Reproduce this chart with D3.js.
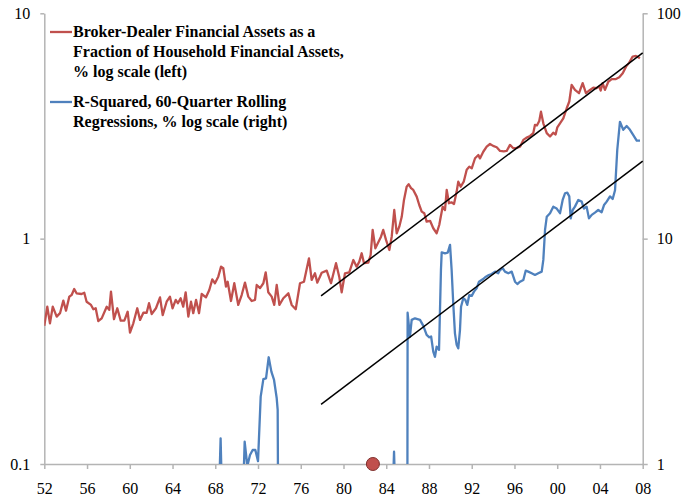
<!DOCTYPE html>
<meta charset="utf-8">
<script src="https://d3js.org/d3.v7.min.js"></script>
<style>
  body { margin: 0; background: #fff; }
  text { font-family: "Liberation Serif", "Times New Roman", serif; }
</style>
<div id="my_dataviz"></div>

<script>
// broker-dealer assets / household financial assets, % (left, log)
var redYears = [1952.0, 1952.28, 1952.53, 1952.79, 1953.16, 1953.47, 1953.78, 1954.03, 1954.34, 1954.56, 1954.8, 1955.02,
  1955.49, 1955.74, 1955.96, 1956.37, 1956.59, 1956.81, 1957.05, 1957.37, 1957.84, 1958.08, 1958.24, 1958.52, 1958.83,
  1959.15, 1959.49, 1959.8, 1960.02, 1960.33, 1960.7, 1960.96, 1961.27, 1961.58, 1961.8, 1962.05, 1962.45, 1962.83,
  1963.08, 1963.45, 1963.76, 1964.0, 1964.3, 1964.5, 1964.76, 1965.0, 1965.23, 1965.48, 1965.73, 1965.94, 1966.2,
  1966.48, 1966.73, 1967.13, 1967.44, 1967.72, 1967.97, 1968.28, 1968.54, 1968.75, 1969.0, 1969.16, 1969.47, 1969.78,
  1970.15, 1970.47, 1970.78, 1971.09, 1971.41, 1971.72, 1971.88, 1972.19, 1972.5, 1972.72, 1972.96, 1973.28, 1973.52,
  1973.75, 1974.0, 1974.37, 1974.84, 1975.15, 1975.53, 1975.93, 1976.3, 1976.77, 1977.02, 1977.33, 1977.55, 1977.96,
  1978.43, 1978.83, 1979.3, 1979.6, 1979.83, 1980.14, 1980.54, 1980.92, 1981.23, 1981.48, 1981.7, 1981.92, 1982.32,
  1982.54, 1982.73, 1982.98, 1983.51, 1983.72, 1983.98, 1984.29, 1984.51, 1984.75, 1984.98, 1985.22, 1985.45, 1985.66,
  1985.91, 1986.1, 1986.32, 1986.53, 1986.85, 1987.09, 1987.32, 1987.56, 1987.78, 1988.1, 1988.4, 1988.72, 1988.96,
  1989.28, 1989.5, 1989.66, 1989.87, 1990.1, 1990.34, 1990.59, 1990.74, 1990.97, 1991.25, 1991.53, 1991.77, 1992.0,
  1992.31, 1992.62, 1992.77, 1993.08, 1993.4, 1993.71, 1994.0, 1994.34, 1994.65, 1995.0, 1995.27, 1995.58, 1995.89,
  1996.2, 1996.52, 1996.83, 1997.1, 1997.46, 1997.76, 1997.92, 1998.1, 1998.32, 1998.48, 1998.7, 1999.02, 1999.33,
  1999.63, 1999.85, 2000.01, 2000.26, 2000.57, 2000.89, 2001.13, 2001.35, 2001.66, 2002.04, 2002.38, 2002.69, 2003.07,
  2003.38, 2003.65, 2003.94, 2004.07, 2004.25, 2004.47, 2004.78, 2005.1, 2005.45, 2005.81, 2006.13, 2006.44, 2006.74,
  2007.06, 2007.37, 2007.55, 2007.74];
var redValues = [0.41, 0.499, 0.421, 0.499, 0.451, 0.467, 0.531, 0.479, 0.553, 0.562, 0.598, 0.572,
  0.568, 0.575, 0.525, 0.508, 0.486, 0.491, 0.431, 0.443, 0.499, 0.483, 0.582, 0.439, 0.491,
  0.433, 0.433, 0.474, 0.383, 0.421, 0.491, 0.436, 0.469, 0.469, 0.517, 0.463, 0.491, 0.549,
  0.458, 0.525, 0.553, 0.491, 0.535, 0.517, 0.544, 0.499, 0.578, 0.451, 0.525, 0.467, 0.535,
  0.467, 0.568, 0.549, 0.592, 0.66, 0.634, 0.678, 0.751, 0.739, 0.612, 0.644, 0.529, 0.634,
  0.508, 0.562, 0.638, 0.553, 0.529, 0.535, 0.623, 0.603, 0.634, 0.709, 0.578, 0.553, 0.508,
  0.623, 0.508, 0.544, 0.572, 0.508, 0.486, 0.634, 0.644, 0.818, 0.656, 0.702, 0.638, 0.706,
  0.721, 0.634, 0.778, 0.678, 0.578, 0.702, 0.709, 0.804, 0.751, 0.791, 0.861, 0.778, 0.783,
  0.846, 1.093, 0.906, 1.02, 1.093, 0.987, 0.891, 1.02, 1.34, 1.056, 1.13, 1.25, 1.485,
  1.7, 1.744, 1.675, 1.645, 1.536, 1.41, 1.318, 1.296, 1.19, 1.2, 1.112, 1.057, 1.15,
  1.387, 1.34, 1.645, 1.436, 1.45, 1.426, 1.617, 1.79, 1.7, 1.79, 2.02, 2.087, 2.05,
  2.274, 2.352, 2.27, 2.43, 2.56, 2.63, 2.58, 2.545, 2.45, 2.44, 2.45, 2.606, 2.52,
  2.53, 2.56, 2.742, 2.8, 2.857, 2.94, 3.2, 3.18, 3.33, 3.66, 3.25, 2.94, 2.84,
  2.95, 2.9, 3.12, 3.25, 3.42, 3.79, 4.06, 4.81, 4.57, 4.42, 4.9, 4.42, 4.57,
  4.68, 4.65, 4.73, 4.54, 4.9, 4.57, 4.97, 5.1, 5.1, 5.2, 5.42, 5.8, 6.04,
  6.43, 6.47, 6.4, 6.32];

// R-squared of 60-quarter rolling regressions, % (right, log) - below 1 falls off the chart
var blueYears = [1967.0, 1967.5, 1968.0, 1968.25, 1968.5, 1968.75, 1969.25, 1970.0, 1970.5, 1970.75, 1971.0, 1971.25,
  1971.5, 1971.75, 1972.0, 1972.25, 1972.5, 1972.75, 1973.0, 1973.25, 1973.5, 1973.75, 1973.84, 1974.0, 1976.0,
  1978.0, 1980.0, 1982.0, 1984.5, 1984.73, 1985.0, 1985.5, 1985.95, 1986.0, 1986.22, 1986.38, 1986.69, 1987.16,
  1987.47, 1987.78, 1988.03, 1988.2, 1988.4, 1988.56, 1988.72, 1988.94, 1989.12, 1989.19, 1989.5, 1989.75, 1989.97,
  1990.12, 1990.27, 1990.43, 1990.59, 1990.74, 1990.9, 1991.0, 1991.21, 1991.4, 1991.58, 1991.77, 1992.0, 1992.21,
  1992.46, 1992.68, 1993.03, 1993.33, 1993.6, 1993.87, 1994.18, 1994.48, 1994.65, 1994.9, 1995.11, 1995.42, 1995.74,
  1996.05, 1996.27, 1996.52, 1996.83, 1997.05, 1997.29, 1997.61, 1997.92, 1998.23, 1998.55, 1998.7, 1998.86, 1999.02,
  1999.33, 1999.63, 1999.95, 2000.26, 2000.51, 2000.73, 2000.94, 2001.13, 2001.26, 2001.45, 2001.66, 2001.97, 2002.29,
  2002.5, 2002.75, 2002.97, 2003.23, 2003.53, 2003.84, 2004.16, 2004.38, 2004.63, 2004.94, 2005.19, 2005.41, 2005.62,
  2005.87, 2006.18, 2006.5, 2006.81, 2007.12, 2007.44, 2007.75];
var blueValues = [0.3, 0.2, 0.4, 0.5, 1.3, 0.4, 0.3, 0.3, 0.5, 1.256, 0.98, 1.096,
  1.154, 1.154, 1.03, 1.99, 2.38, 2.4, 2.976, 2.57, 2.36, 1.957, 1.74, 0.03, 0.3,
  0.2, 0.4, 0.3, 0.5, 1.134, 0.4, 0.2, 0.05, 4.69, 3.67, 4.36, 4.43, 4.36,
  4.1, 3.74, 3.65, 3.68, 3.15, 2.99, 3.32, 3.21, 7.26, 8.7, 8.61, 8.66, 9.38,
  7.26, 5.17, 3.8, 3.38, 3.26, 3.93, 4.99, 5.44, 5.35, 5.08, 5.62, 5.57, 5.82,
  6.02, 6.44, 6.6, 6.78, 6.9, 6.97, 7.14, 7.02, 7.26, 7.39, 7.14, 7.02, 7.14,
  6.44, 6.29, 6.44, 6.56, 7.21, 7.14, 7.02, 6.9, 7.02, 7.14, 8.05, 10.93, 12.5,
  12.97, 13.87, 13.6, 12.97, 14.85, 15.9, 16.0, 15.4, 12.3, 13.4, 13.87, 14.85, 14.6,
  13.6, 13.87, 12.3, 12.75, 13.05, 13.4, 13.1, 14.1, 14.6, 15.4, 15.0, 16.4, 24.8,
  33.0, 30.4, 31.6, 30.4, 28.8, 27.2, 27.2];

// fitted trend lines, 1978-2008
var trendYears = [1977.9, 2008];
var trendLeft = [0.557, 6.67];
var trendRight = [1.84, 22.1];

var markerYear = 1982.75;
var xTicks = [1952, 1956, 1960, 1964, 1968, 1972, 1976, 1980, 1984, 1988, 1992, 1996, 2000, 2004, 2008];
var leftTicks = [0.1, 1, 10];
var rightTicks = [1, 10, 100];
var legendLabels = [
  ["Broker-Dealer Financial Assets as a", "Fraction of Household Financial Assets,", "% log scale (left)"],
  ["R-Squared, 60-Quarter Rolling", "Regressions, % log scale (right)"]
];

var margin = {top: 13.3, right: 38.3, bottom: 33, left: 44.3},
    width = 681 - margin.left - margin.right,
    height = 497 - margin.top - margin.bottom;

var svg = d3.select("#my_dataviz")
    .append("svg")
    .attr("width", 681)
    .attr("height", 497)
    .append("g")
    .attr("transform", "translate(" + margin.left + "," + margin.top + ")");

var x = d3.scaleLinear().domain([1952, 2008]).range([0, width]);
var yLeft = d3.scaleLog().domain([0.1, 10]).range([height, 0]);
var yRight = d3.scaleLog().domain([1, 100]).range([height, 0]);

var axisColor = "#b4b4b4";

function styleAxis(g) {
    g.selectAll("path, line").attr("stroke", axisColor).attr("stroke-width", 1.5);
    g.selectAll("text").attr("font-size", 16).attr("fill", "#000")
        .attr("font-family", "Liberation Serif, Times New Roman, serif");
}

// X axis
svg.append("g")
    .attr("transform", "translate(0," + height + ")")
    .call(d3.axisBottom(x).tickValues(xTicks).tickSizeInner(5).tickSizeOuter(0).tickPadding(14)
        .tickFormat(function(d) { return String(d % 100).padStart(2, "0"); }))
    .call(styleAxis);

// left axis
svg.append("g")
    .call(d3.axisLeft(yLeft).tickValues(leftTicks).tickSizeInner(4).tickSizeOuter(0).tickPadding(10)
        .tickFormat(function(d) { return String(d); }))
    .call(styleAxis);

// right axis
svg.append("g")
    .attr("transform", "translate(" + width + ",0)")
    .call(d3.axisRight(yRight).tickValues(rightTicks).tickSizeInner(5).tickSizeOuter(0).tickPadding(9)
        .tickFormat(function(d) { return String(d); }))
    .call(styleAxis);

svg.append("clipPath").attr("id", "plotclip")
    .append("rect").attr("x", 0).attr("y", 0).attr("width", width + 2).attr("height", height);

var plot = svg.append("g").attr("clip-path", "url(#plotclip)");

var redLine = d3.line()
    .x(function(d) { return x(d[0]); })
    .y(function(d) { return yLeft(d[1]); });
var blueLine = d3.line()
    .x(function(d) { return x(d[0]); })
    .y(function(d) { return yRight(d[1]); });

plot.append("path")
    .datum(d3.zip(redYears, redValues))
    .attr("fill", "none")
    .attr("stroke", "#C0504D")
    .attr("stroke-width", 2.3)
    .attr("stroke-linejoin", "round")
    .attr("d", redLine);

plot.append("path")
    .datum(d3.zip(blueYears, blueValues))
    .attr("fill", "none")
    .attr("stroke", "#4F81BD")
    .attr("stroke-width", 2.3)
    .attr("stroke-linejoin", "round")
    .attr("d", blueLine);

// trend lines
plot.append("path")
    .datum(d3.zip(trendYears, trendLeft))
    .attr("fill", "none").attr("stroke", "#000").attr("stroke-width", 1.5)
    .attr("d", redLine);
plot.append("path")
    .datum(d3.zip(trendYears, trendRight))
    .attr("fill", "none").attr("stroke", "#000").attr("stroke-width", 1.5)
    .attr("d", blueLine);

// marker on the baseline
svg.append("circle")
    .attr("cx", x(markerYear))
    .attr("cy", yLeft(0.1))
    .attr("r", 6.5)
    .attr("fill", "#C0504D")
    .attr("stroke", "#7f2f2c")
    .attr("stroke-width", 1);

// legend
var legendColors = ["#C0504D", "#4F81BD"];
var legendTop = [37, 107];
var legend = svg.append("g").attr("transform", "translate(" + (-margin.left) + "," + (-margin.top) + ")");
legendLabels.forEach(function(lines, i) {
    legend.append("line")
        .attr("x1", 50).attr("x2", 72)
        .attr("y1", legendTop[i] - 5).attr("y2", legendTop[i] - 5)
        .attr("stroke", legendColors[i]).attr("stroke-width", 2.3);
    lines.forEach(function(t, j) {
        legend.append("text")
            .attr("x", 73)
            .attr("y", legendTop[i] + j * 20)
            .attr("font-size", 16)
            .attr("font-weight", "bold")
            .text(t);
    });
});
</script>
